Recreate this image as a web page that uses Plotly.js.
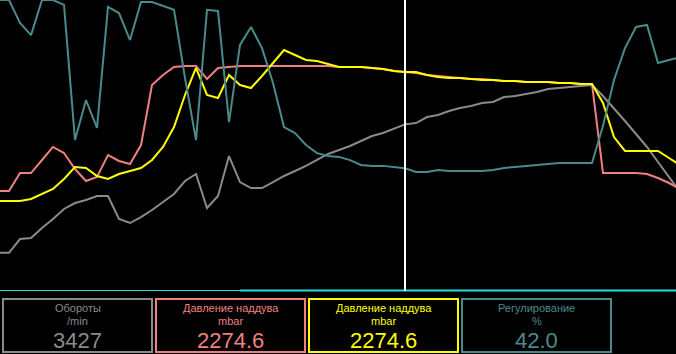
<!DOCTYPE html>
<html>
<head>
<meta charset="utf-8">
<script src="https://cdn.plot.ly/plotly-3.0.1.min.js"></script>
<style>html,body{margin:0;padding:0;background:#000;}#chart{width:676px;height:354px;}</style>
</head>
<body>
<div id="chart"></div>
<script>
// sample index (x axis)
const sample = [0,1,2,3,4,5,6,7,8,9,10,11,12,13,14,15,16,17,18,19,20,21,22,23,24,25,26,27,28,29,30,
  31,32,33,34,35,36,37,38,39,40,41,42,43,44,45,46,47,48,49,50,51,52,53,54,55,56,57,58,59,60,61,62];

// Обороты, /min
const rpm = [770,770,1055,1076,1283,1469,1676,1800,1862,1945,1945,1469,1386,1510,1655,1821,1986,2255,2400,1697,
  1945,2772,2234,2110,2110,2234,2359,2462,2566,2690,2814,2897,2979,3083,3186,3248,3331,3427,3455,3579,
  3621,3703,3766,3807,3869,3890,3993,4014,4055,4097,4159,4179,4200,4221,4241,4014,3766,3497,3228,2959,
  2648,2338,2028];

// Давление наддува (1), mbar
const boostA = [1033,1033,1220,1220,1356,1492,1429,1262,1137,1179,1408,1346,1314,1512,2138,2243,2326,2337,2337,2201,
  2316,2326,2337,2337,2337,2337,2337,2337,2337,2337,2337,2326,2326,2326,2316,2305,2284,2274.6,2264,2243,
  2232,2222,2211,2201,2201,2191,2180,2180,2170,2170,2170,2159,2159,2149,2149,1220,1220,1220,1220,1210,
  1168,1116,1054];

// Давление наддува (2), mbar
const boostB = [928,928,928,949,1001,1054,1158,1283,1273,1189,1158,1210,1241,1273,1356,1492,1700,2034,2316,2034,
  2003,2243,2138,2107,2232,2368,2503,2451,2399,2389,2357,2326,2326,2326,2316,2305,2284,2274.6,2274,2243,
  2222,2211,2211,2201,2191,2191,2180,2180,2170,2170,2170,2159,2159,2149,2149,1951,1596,1450,1450,1450,
  1450,1377,1304];

// Регулирование, %
const regul = [100,100,92.1,87.9,100,100,98.3,51.7,65.5,55.9,97.6,95.5,86.2,99.3,99.3,97.9,96.6,73.1,51.7,96.6,
  96.2,57.9,84.5,90.7,83.4,71.4,56.2,54.1,50.0,47.2,46.2,45.9,44.8,43.1,42.8,42.8,42.4,42.0,40.7,40.7,
  41.4,41.0,41.0,41.0,41.0,41.4,42.1,42.4,42.8,43.1,43.4,43.8,43.8,43.8,43.8,56.6,72.4,83.4,90.7,91.4,
  78.3,79.3,80.3];

const cursorSample = 37;

const readoutLabels = ['Обороты', 'Давление наддува', 'Давление наддува', 'Регулирование'];
const readoutUnits = ['/min', 'mbar', 'mbar', '%'];
const readoutValues = ['3427', '2274.6', '2274.6', '42.0'];

const colors = ['#8a8a8a', '#f08080', '#ffff00', '#4a8a8a'];

const W = 676, PH = 290;
const px = x => x / W;
const py = y => (PH - y) / PH;

const traces = [
  {x: sample, y: rpm, yaxis: 'y', line: {color: colors[0]}},
  {x: sample, y: boostA, yaxis: 'y2', line: {color: colors[1]}},
  {x: sample, y: boostB, yaxis: 'y2', line: {color: colors[2]}},
  {x: sample, y: regul, yaxis: 'y3', line: {color: colors[3]}}
].map(t => Object.assign({type: 'scatter', mode: 'lines', hoverinfo: 'skip'}, t, {line: Object.assign({width: 2, shape: 'linear'}, t.line)}));

const shapes = [
  {type: 'line', xref: 'paper', yref: 'paper', x0: 0, x1: px(240), y0: py(290.5), y1: py(290.5), line: {color: '#22dde0', width: 1}},
  {type: 'line', xref: 'paper', yref: 'paper', x0: px(240), x1: 1, y0: py(290.5), y1: py(290.5), line: {color: '#22dde0', width: 2}},
  {type: 'line', xref: 'x', yref: 'paper', x0: cursorSample, x1: cursorSample, y0: py(291), y1: 1, line: {color: '#ffffff', width: 2}}
];
const boxLeft = [2, 155, 308, 461];
const boxW = 151;
const annotations = [];
boxLeft.forEach((l, k) => {
  shapes.push({type: 'rect', xref: 'paper', yref: 'paper', x0: px(l + 1), x1: px(l + boxW - 1), y0: py(299), y1: py(352),
    line: {color: colors[k], width: 2}, fillcolor: 'rgba(0,0,0,0)'});
  const cx = px(l + boxW / 2);
  const base = {xref: 'paper', yref: 'paper', x: cx, xanchor: 'center', yanchor: 'middle', showarrow: false};
  annotations.push(Object.assign({}, base, {y: py(308), text: readoutLabels[k], font: {family: 'Liberation Sans, Arial, sans-serif', size: 11, color: colors[k]}}));
  annotations.push(Object.assign({}, base, {y: py(321), text: readoutUnits[k], font: {family: 'Liberation Sans, Arial, sans-serif', size: 11, color: colors[k]}}));
  annotations.push(Object.assign({}, base, {y: py(340), text: readoutValues[k], font: {family: 'Liberation Sans Narrow, Arial Narrow, sans-serif', size: 22, color: colors[k]}}));
});

const layout = {
  width: 676, height: 354,
  margin: {l: 0, r: 0, t: 0, b: 64, pad: 0},
  paper_bgcolor: '#000', plot_bgcolor: '#000',
  showlegend: false,
  xaxis: {range: [2 / 11, 678 / 11], visible: false, showgrid: false, zeroline: false},
  yaxis: {range: [0, 6000], visible: false, showgrid: false, zeroline: false},
  yaxis2: {range: [0, 3025], overlaying: 'y', visible: false, showgrid: false, zeroline: false},
  yaxis3: {range: [0, 100], overlaying: 'y', visible: false, showgrid: false, zeroline: false},
  shapes: shapes,
  annotations: annotations
};

Plotly.newPlot('chart', traces, layout, {staticPlot: true, displayModeBar: false});
</script>
</body>
</html>
